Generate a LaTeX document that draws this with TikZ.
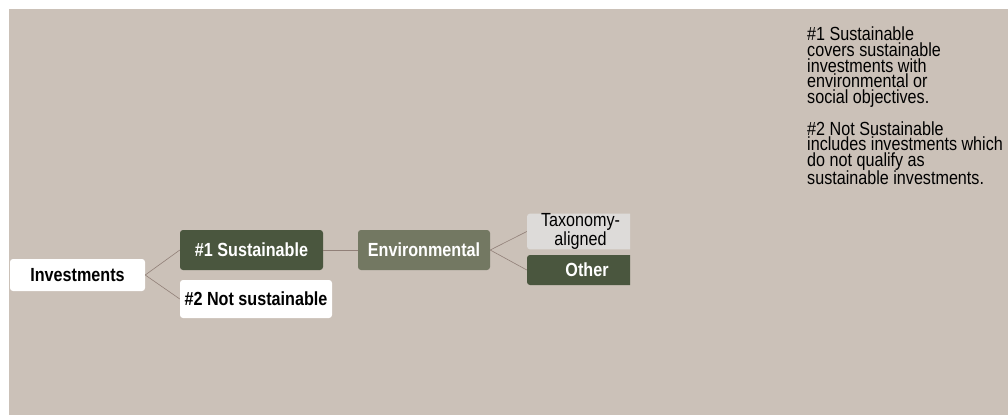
\documentclass[tikz,border=0pt]{standalone}
\usepackage{fontspec}
\newfontfamily\narrowsans[FakeStretch=0.85]{Liberation Sans}
\usetikzlibrary{calc}
\definecolor{fundbeige}{RGB}{203,193,184}
\definecolor{funddark}{RGB}{74,86,62}
\definecolor{fundmid}{RGB}{115,120,98}
\definecolor{fundlight}{RGB}{221,219,217}
\definecolor{fundline}{RGB}{145,128,120}
\tikzstyle{box}=[rounded corners=3pt,inner sep=0pt,font=\narrowsans\fontsize{19}{17}\selectfont\bfseries,align=center]
\tikzstyle{whitebox}=[box,fill=white,text=black]
\tikzstyle{darkbox}=[box,fill=funddark,text=white]
\tikzstyle{midbox}=[box,fill=fundmid,text=white]
\tikzstyle{lightbox}=[box,fill=fundlight,text=black,font=\narrowsans\fontsize{19}{16}\selectfont]
\tikzstyle{link}=[draw=fundline,line width=0.6pt]

\begin{document}
\begin{tikzpicture}[x=1pt,y=-1pt]
    \useasboundingbox (0,0) rectangle (1008,415);
    \fill[fundbeige] (9,9) rectangle (1008,415);

    \node[whitebox,minimum width=135pt,minimum height=32pt] (inv) at (77.5,275) {Investments};
    \node[darkbox,minimum width=143pt,minimum height=40pt] (sus) at (251.5,250) {\#1 Sustainable};
    \node[whitebox,minimum width=152pt,minimum height=38pt] (notsus) at (256,299) {\#2 Not sustainable};
    \node[midbox,minimum width=132pt,minimum height=40pt] (env) at (424,250) {Environmental};

    % right column is cut off at the slide edge
    \begin{scope}
      \clip (0,0) rectangle (630,415);
      \node[lightbox,minimum width=107pt,minimum height=33pt] (tax) at (580.5,231.5) {Taxonomy-\\aligned};
      \node[darkbox,minimum width=120pt,minimum height=30pt] (other) at (587,270) {Other};
    \end{scope}

    \draw[link] (inv.east) -- (sus.west);
    \draw[link] (inv.east) -- (notsus.west);
    \draw[link] (sus.east) -- (env.west);
    \draw[link] (env.east) -- (tax.west);
    \draw[link] (env.east) -- (other.west);

    \node[anchor=north west,inner sep=0pt,align=left,
      font=\narrowsans\fontsize{19}{15.6}\selectfont] (notes) at (807,27)
      {\#1 Sustainable\\covers sustainable\\investments with\\environmental or\\social objectives.\\[13pt]
       \#2 Not Sustainable\\includes investments which\\do not qualify as\\sustainable investments.};
\end{tikzpicture}
\end{document}
